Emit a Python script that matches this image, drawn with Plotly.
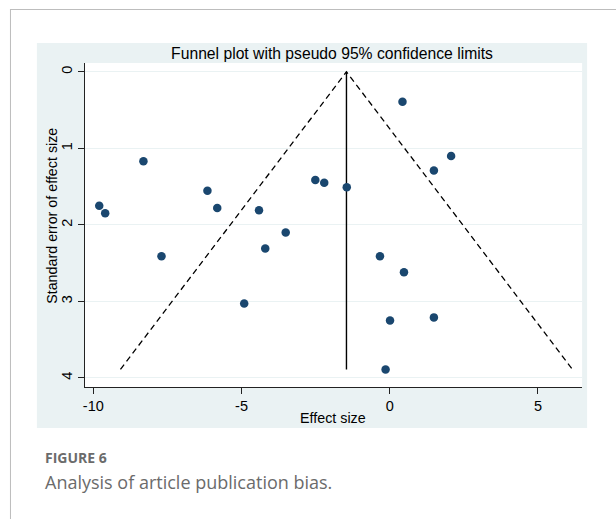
import plotly.graph_objects as go

# Study-level estimates
effect_size = [-9.80, -9.60, -8.31, -7.70, -6.15, -5.82, -4.91, -4.41, -4.20, -3.51,
               -2.51, -2.21, -1.45, 0.43, 2.07, 1.49, -0.33, 0.48, 0.01, 1.49, -0.14]
std_error = [1.75, 1.85, 1.17, 2.41, 1.555, 1.78, 3.03, 1.81, 2.31, 2.10,
             1.415, 1.45, 1.51, 0.39, 1.10, 1.29, 2.41, 2.62, 3.25, 3.21, 3.89]

pooled_effect = -1.46
x_ticks = [-10, -5, 0, 5]
y_ticks = [0, 1, 2, 3, 4]

W, H = 616, 519


def px(x):
    return x / W


def py(y):
    return 1 - y / H


se_max = max(std_error)
half_width = 1.96 * se_max

fig = go.Figure()

# pseudo 95% confidence limits
fig.add_trace(go.Scatter(
    x=[pooled_effect - half_width, pooled_effect, pooled_effect + half_width],
    y=[se_max, 0, se_max],
    mode="lines", line=dict(color="black", width=1.3, dash="6px,4px"),
    hoverinfo="skip", showlegend=False))

# pooled estimate
fig.add_trace(go.Scatter(
    x=[pooled_effect, pooled_effect], y=[0, se_max],
    mode="lines", line=dict(color="black", width=1.4),
    hoverinfo="skip", showlegend=False))

fig.add_trace(go.Scatter(
    x=effect_size, y=std_error, mode="markers",
    marker=dict(color="#1a476f", size=8.5, line=dict(width=0)),
    showlegend=False))

sans = "Liberation Sans, Arial, sans-serif"
tick_font = dict(family=sans, size=14.5, color="black")
label_font = dict(family=sans, size=14.3, color="black")

fig.update_layout(
    width=W, height=H,
    margin=dict(l=0, r=0, t=0, b=0),
    paper_bgcolor="white", plot_bgcolor="white",
    showlegend=False,
    title=dict(text="Funnel plot with pseudo 95% confidence limits",
               x=332 / W, xanchor="center", y=py(53.5), yanchor="middle",
               font=dict(family=sans, size=15.7, color="black")),
    xaxis=dict(domain=[px(83), px(582)], range=[-10.29, 6.49],
               tickvals=x_ticks, ticktext=[str(v) for v in x_ticks],
               showgrid=False, zeroline=False,
               showline=True, linecolor="#222", linewidth=1,
               ticks="outside", ticklen=6, tickcolor="#222",
               tickfont=tick_font),
    yaxis=dict(domain=[py(387), py(63)], range=[4.12, -0.115],
               tickvals=y_ticks, ticktext=[str(v) for v in y_ticks],
               tickangle=-90,
               showgrid=True, gridcolor="#eaf2f3", gridwidth=1.2,
               zeroline=False,
               showline=True, linecolor="#222", linewidth=1,
               ticks="outside", ticklen=6, tickcolor="#222",
               tickfont=tick_font),
    shapes=[
        # graph region background
        dict(type="rect", xref="paper", yref="paper",
             x0=px(35), x1=px(587), y0=py(428), y1=py(43),
             fillcolor="#eaf2f3", line=dict(width=0), layer="below"),
        # plot region
        dict(type="rect", xref="paper", yref="paper",
             x0=px(83), x1=px(582), y0=py(387), y1=py(63),
             fillcolor="white", line=dict(width=0), layer="below"),
        # card borders
        dict(type="line", xref="paper", yref="paper",
             x0=px(8), x1=1, y0=py(9.5), y1=py(9.5),
             line=dict(color="#bdbdbd", width=1)),
        dict(type="line", xref="paper", yref="paper",
             x0=px(8.5), x1=px(8.5), y0=py(9.5), y1=0,
             line=dict(color="#bdbdbd", width=1)),
    ],
    annotations=[
        dict(text="Effect size", xref="paper", yref="paper",
             x=px(332), y=py(418), xanchor="center", yanchor="middle",
             showarrow=False, font=label_font),
        dict(text="Standard error of effect size", xref="paper", yref="paper",
             x=px(50), y=py(216), xanchor="center", yanchor="middle",
             textangle=-90, showarrow=False, font=label_font),
        dict(text="<b>FIGURE 6</b>", xref="paper", yref="paper",
             x=px(41), y=py(457), xanchor="left", yanchor="middle",
             showarrow=False,
             font=dict(family="Open Sans, sans-serif", size=14, color="#6b6b6b")),
        dict(text="Analysis of article publication bias.", xref="paper", yref="paper",
             x=px(41), y=py(482), xanchor="left", yanchor="middle",
             showarrow=False,
             font=dict(family="Open Sans, sans-serif", size=18, color="#6b6b6b")),
    ],
)

fig.write_html("out.html")
